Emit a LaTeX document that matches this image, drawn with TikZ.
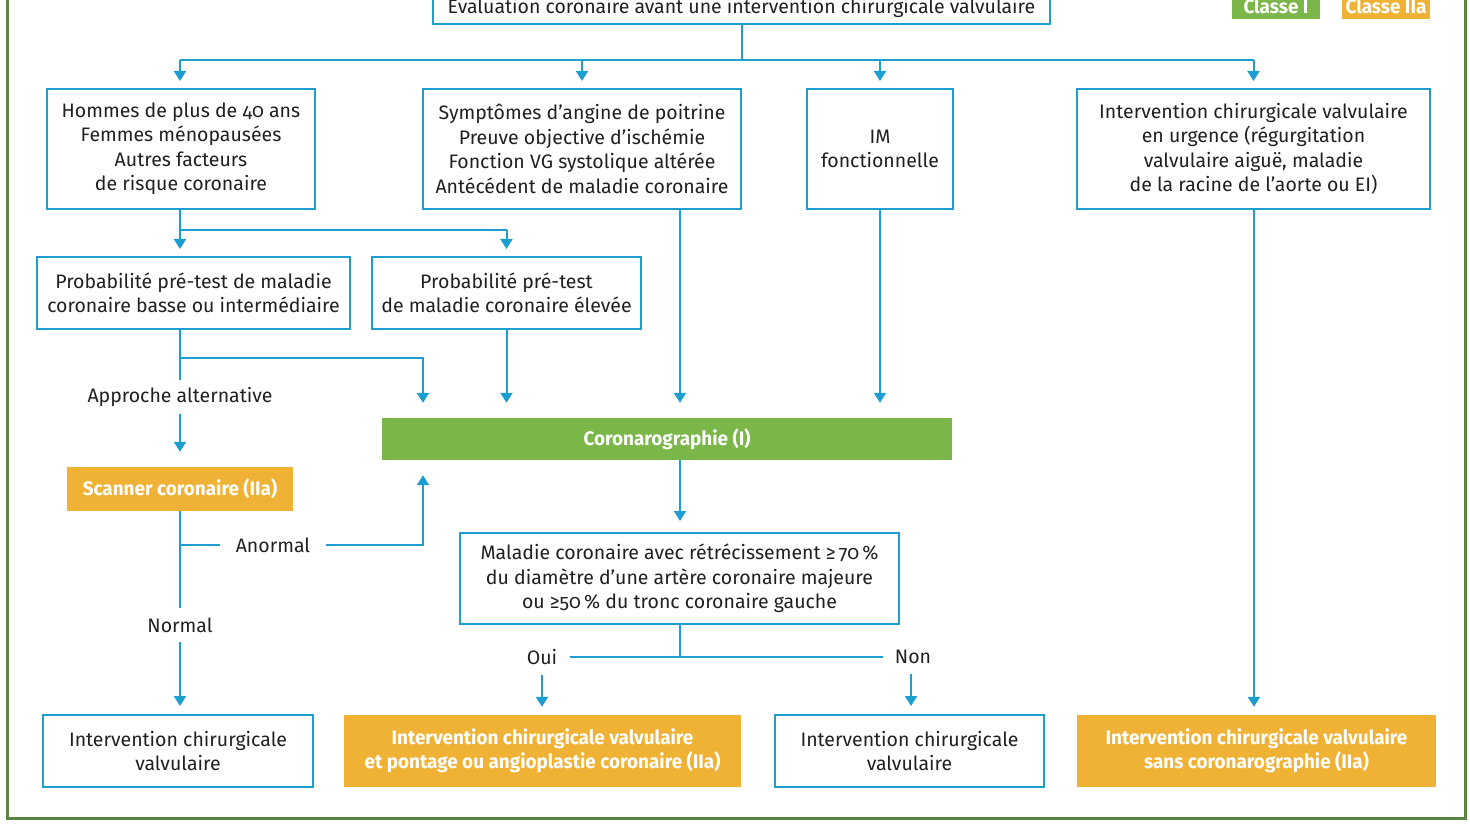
\documentclass[tikz,border=0pt]{standalone}
\usepackage{fontspec}
\setmainfont{Fira Sans}[Numbers=OldStyle]
\newfontfamily\condbf{Fira Sans}[FakeStretch=0.97,Numbers=OldStyle,UprightFont=*-Bold]
\usetikzlibrary{arrows.meta}
\definecolor{cblue}{RGB}{28,158,208}
\definecolor{cgreen}{RGB}{122,182,72}
\definecolor{corange}{RGB}{240,178,52}
\definecolor{cframe}{RGB}{92,132,62}
\definecolor{ctext}{RGB}{35,31,32}
\begin{document}
\begin{tikzpicture}[x=1pt,y=-1pt,
  txt/.style={font=\fontsize{19.5}{24.5}\selectfont, text=ctext},
  bx/.style={txt, draw=cblue, line width=2pt, fill=white, inner sep=0pt, align=center},
  gbx/.style={fill=cgreen, inner sep=0pt, align=center, text=white, font=\fontsize{19.5}{24.5}\selectfont\condbf},
  obx/.style={gbx, fill=corange},
  ln/.style={draw=cblue, line width=2pt},
  arr/.style={ln, -{Triangle[width=12pt,length=10pt]}, shorten >=7pt},
  lbl/.style={txt, inner sep=0pt}
]
\useasboundingbox (0,0) rectangle (1470,826);
\draw[cframe, line width=3pt] (7,-10) rectangle (1465,818);

% nodes
\node[bx, minimum width=617, minimum height=34] (T) at (741.5,7) {Évaluation coronaire avant une intervention chirurgicale valvulaire};
\node[gbx, minimum width=88, minimum height=26] (L1) at (1276,6) {Classe I};
\node[obx, minimum width=88, minimum height=26] (L2) at (1386,6) {Classe IIa};

\node[bx, minimum width=268, minimum height=120] (A) at (181,149) {Hommes de plus de 40 ans\\Femmes ménopausées\\Autres facteurs\\de risque coronaire};
\node[bx, minimum width=318, minimum height=120] (B) at (582,149) {Symptômes d’angine de poitrine\\Preuve objective d’ischémie\\Fonction VG systolique altérée\\Antécédent de maladie coronaire};
\node[bx, minimum width=146, minimum height=120] (C) at (880,149) {IM\\fonctionnelle};
\node[bx, minimum width=353, minimum height=120] (D) at (1253.5,149) {Intervention chirurgicale valvulaire\\en urgence (régurgitation\\valvulaire aiguë, maladie\\de la racine de l’aorte ou EI)};

\node[bx, minimum width=313, minimum height=72] (E) at (193.5,293) {Probabilité pré-test de maladie\\coronaire basse ou intermédiaire};
\node[bx, minimum width=269, minimum height=72] (F) at (506.5,293) {Probabilité pré-test\\de maladie coronaire élevée};

\node[gbx, minimum width=570, minimum height=42] (G) at (667,439) {Coronarographie (I)};
\node[obx, minimum width=226, minimum height=44] (S) at (180,489) {Scanner coronaire (IIa)};

\node[bx, minimum width=439, minimum height=91] (H) at (679.5,578.5) {Maladie coronaire avec rétrécissement ≥\,70\,\%\\du diamètre d’une artère coronaire majeure\\ou ≥50\,\% du tronc coronaire gauche};

\node[bx, minimum width=270, minimum height=72] (I1) at (178,751) {Intervention chirurgicale\\valvulaire};
\node[obx, minimum width=397, minimum height=72] (I2) at (542.5,751) {Intervention chirurgicale valvulaire\\et pontage ou angioplastie coronaire (IIa)};
\node[bx, minimum width=269, minimum height=72] (I3) at (909.5,751) {Intervention chirurgicale\\valvulaire};
\node[obx, minimum width=359, minimum height=72] (I4) at (1256.5,751) {Intervention chirurgicale valvulaire\\sans coronarographie (IIa)};

% labels
\node[lbl, inner ysep=7pt] (alt) at (180,397) {Approche alternative};
\node[lbl, inner xsep=16pt] (anm) at (273,545) {Anormal};
\node[lbl, inner ysep=9pt] (nrm) at (180,625) {Normal};
\node[lbl, inner xsep=13pt, inner ysep=10pt] (oui) at (542,657) {Oui};
\node[lbl, inner xsep=12pt, inner ysep=10pt] (non) at (913,657) {Non};

% helper coordinates
\coordinate (bus) at (0,60);
\coordinate (ab) at (0,230);
\coordinate (eg) at (0,358);
\coordinate (g1) at (423,0);
\coordinate (gx) at (680,0);
\coordinate (ax) at (180,0);
\coordinate (hy) at (0,657);

% connectors
\draw[ln] (T.south) -- (T.south |- bus);
\draw[ln] (ax |- bus) -- (D.north |- bus);
\draw[arr] (ax |- bus) -- (ax |- A.north);
\draw[arr] (B.north |- bus) -- (B.north);
\draw[arr] (C.north |- bus) -- (C.north);
\draw[arr] (D.north |- bus) -- (D.north);

\draw[ln] (ax |- A.south) -- (ax |- ab) -- (F.north |- ab);
\draw[arr] (ax |- ab) -- (ax |- E.north);
\draw[arr] (F.north |- ab) -- (F.north);

\draw[ln] (ax |- E.south) -- (alt.north);
\draw[arr, shorten >=15pt] (ax |- eg) -| (g1 |- G.north);
\draw[arr, shorten >=15pt] (F.south) -- (F.south |- G.north);
\draw[arr, shorten >=15pt] (gx |- B.south) -- (gx |- G.north);
\draw[arr, shorten >=15pt] (C.south) -- (C.south |- G.north);
\draw[arr, shorten >=15pt] (alt.south) -- (S.north);

\draw[ln] (S.south) -- (nrm.north);
\draw[ln] (ax |- anm) -- (anm.west);
\draw[arr, shorten >=15pt] (anm.east) -| (g1 |- G.south);
\draw[arr, shorten >=8pt] (nrm.south) -- (ax |- I1.north);

\draw[arr, shorten >=11pt] (gx |- G.south) -- (gx |- H.north);
\draw[ln] (gx |- H.south) -- (gx |- hy);
\draw[ln] (oui.east) -- (non.west);
\draw[arr, shorten >=8pt] (oui.south) -- (oui.south |- I2.north);
\draw[arr, shorten >=8pt] (non.south -| 911,0) -- (911,0 |- I3.north);
\draw[arr, shorten >=8pt] (D.south -| 1254,0) -- (1254,0 |- I4.north);
\end{tikzpicture}
\end{document}
